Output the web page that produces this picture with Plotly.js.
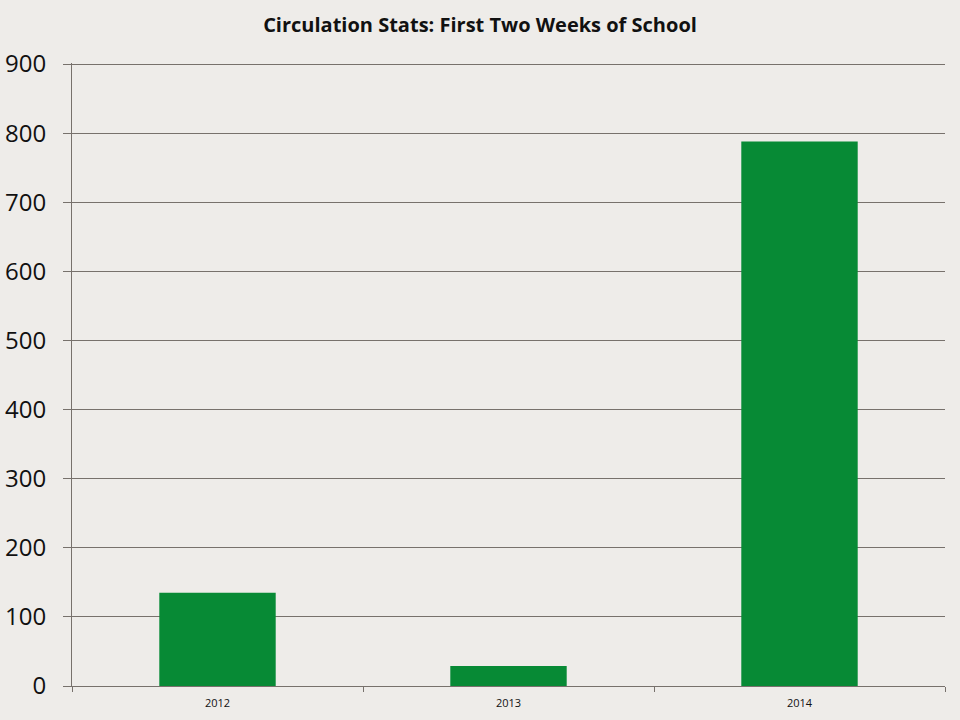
<!DOCTYPE html>
<html>
<head>
<meta charset="utf-8">
<script src="https://cdn.plot.ly/plotly-3.0.1.min.js"></script>
<style>
  html, body { margin: 0; padding: 0; background: #eeece9; }
  #myChart { width: 960px; height: 720px; }
</style>
</head>
<body>
<div id="myChart"></div>
<script>
// circulation counts, first two weeks of school
const years = ["2012", "2013", "2014"];
const circulation = [135, 29, 788];
const yTicks = [0, 100, 200, 300, 400, 500, 600, 700, 800, 900];

const data = [{
  type: "bar",
  x: years,
  y: circulation,
  width: 0.4,
  marker: { color: "#078a35", line: { width: 0 } },
  hoverinfo: "x+y"
}];

const gridColor = "#77716c";

// Define Layout
const layout = {
  width: 960,
  height: 720,
  paper_bgcolor: "#eeece9",
  plot_bgcolor: "#eeece9",
  showlegend: false,
  margin: { l: 72, r: 15, t: 63, b: 34 },
  title: {
    text: "<b>Circulation Stats: First Two Weeks of School</b>",
    font: { family: "Open Sans, sans-serif", size: 20, color: "#111" },
    x: 0.5,
    xanchor: "center",
    y: 0.965,
    yanchor: "middle"
  },
  xaxis: {
    type: "category",
    showline: true,
    linecolor: gridColor,
    linewidth: 1,
    ticks: "outside",
    tickson: "boundaries",
    ticklen: 5,
    tickcolor: gridColor,
    showgrid: false,
    ticklabelstandoff: 7,
    tickfont: { family: "Open Sans, sans-serif", size: 11, color: "#111" }
  },
  yaxis: {
    range: [0, 901.5],
    tickvals: yTicks,
    showline: true,
    linecolor: gridColor,
    linewidth: 1,
    showgrid: true,
    gridcolor: gridColor,
    gridwidth: 1,
    zeroline: false,
    ticks: "outside",
    ticklen: 8,
    tickcolor: gridColor,
    ticklabelstandoff: 12,
    tickfont: { family: "Open Sans, sans-serif", size: 24, color: "#111" }
  }
};

const config = { responsive: false, displayModeBar: false };

// Display using Plotly
Plotly.newPlot("myChart", data, layout, config);
</script>
</body>
</html>
